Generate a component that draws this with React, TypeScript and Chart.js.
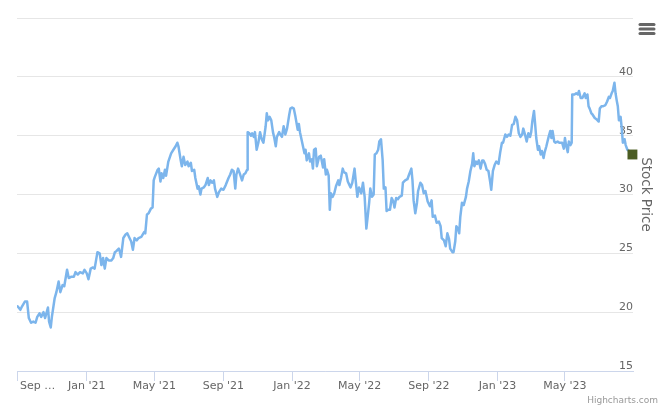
import React, { useEffect, useRef } from "react";
import { Chart, registerables } from "chart.js";

Chart.register(...registerables);

// ---- data ----
const dates2020 = ["08-31","09-05","09-08","09-13","09-17","09-20","09-24","09-28","10-02","10-05","10-09","10-12","10-16","10-19","10-24","10-26","10-29","10-31","11-05","11-08","11-12","11-15","11-19","11-22","11-27","11-30","12-04","12-09","12-12","12-16","12-20","12-25","12-28"];
const prices2020 = [20.5,20.2,20.5,20.9,20.9,19.5,19.1,19.2,19.1,19.6,19.9,19.6,20.0,19.5,20.4,19.2,18.7,19.6,21.2,21.7,22.6,21.7,22.3,22.2,23.6,22.9,23.0,23.0,23.4,23.2,23.4,23.3,23.6];

const dates2021 = [
  "01-01","01-04","01-08","01-12","01-15","01-20","01-24","01-27","01-30",
  "02-02","02-05","02-09","02-14","02-17","02-20","02-23","02-27",
  "03-01","03-03","03-07","03-11","03-14","03-18","03-21","03-24","03-27","03-31",
  "04-03","04-08","04-13","04-15","04-18","04-21","04-25","04-28","04-30",
  "05-02","05-07","05-09","05-12","05-14","05-17","05-20","05-22","05-26","05-31",
  "06-04","06-08","06-11","06-13","06-17","06-19","06-22","06-25","06-29",
  "07-01","07-05","07-07","07-11","07-13","07-17","07-19","07-22","07-24","07-28","07-31",
  "08-04","08-06","08-09","08-12","08-15","08-17","08-21","08-24","08-28",
  "09-01","09-05","09-10","09-13","09-16","09-19","09-22","09-24","09-27","09-30",
  "10-04","10-07","10-10","10-13","10-14","10-17","10-20","10-22","10-25","10-27","10-30",
  "11-02","11-05","11-08","11-11","11-15","11-17","11-19","11-22","11-25","11-28","11-30",
  "12-03","12-05","12-09","12-11","12-14","12-17","12-20","12-23","12-27","12-29"
];
const prices2021 = [
  23.3,22.8,23.7,23.8,23.7,25.1,25.0,24.0,24.6,
  23.7,24.6,24.4,24.4,24.6,25.1,25.2,25.4,
  25.1,24.7,26.3,26.6,26.7,26.3,26.0,25.3,26.3,26.1,
  26.3,26.4,26.8,26.7,28.3,28.4,28.8,28.9,31.2,
  31.5,32.1,32.2,31.1,31.8,31.4,32.1,31.6,32.8,33.5,
  33.8,34.1,34.4,34.1,32.9,32.4,33.2,32.5,32.8,
  32.4,32.7,32.0,32.1,31.4,30.5,30.7,30.0,30.5,30.6,30.8,
  31.4,30.8,31.2,31.0,31.2,30.5,29.8,30.2,30.5,
  30.4,30.8,31.4,31.7,32.1,32.0,30.5,31.7,32.2,31.8,
  31.2,31.7,31.8,32.1,35.3,35.2,35.0,35.2,34.9,35.3,33.8,
  34.4,35.3,34.7,34.4,35.8,36.9,36.3,36.6,36.3,35.3,34.9,
  34.1,34.9,35.3,35.1,34.9,35.8,35.1,35.6,36.8,37.3
];

const dates2022 = [
  "01-01","01-04","01-07","01-11","01-13","01-15","01-19","01-23","01-25","01-27","01-31",
  "02-02","02-05","02-07","02-09","02-12","02-14","02-18","02-21","02-25","02-27",
  "03-02","03-04","03-07","03-09","03-11","03-14","03-17","03-20","03-24","03-26","03-29",
  "04-01","04-03","04-07","04-10","04-13","04-15","04-18","04-22","04-24","04-27","04-30",
  "05-04","05-07","05-10","05-13","05-16","05-18","05-20","05-23","05-26","05-28","05-31",
  "06-03","06-05","06-08","06-11","06-13","06-16","06-18","06-21","06-24","06-27","06-30",
  "07-02","07-05","07-08","07-11","07-15","07-17","07-21","07-25","07-28",
  "08-01","08-03","08-05","08-08","08-11","08-13","08-17","08-20","08-23","08-26","08-30",
  "09-03","09-06","09-08","09-12","09-15","09-19","09-22","09-24","09-28",
  "10-01","10-04","10-07","10-09","10-13","10-15","10-18","10-20","10-23","10-25","10-27","10-30",
  "11-02","11-06","11-08","11-11","11-14","11-17","11-19","11-21","11-24","11-26","11-29",
  "12-02","12-05","12-07","12-10","12-13","12-16","12-19","12-21","12-24","12-27","12-30"
];
const prices2022 = [
  37.4,37.3,36.6,35.5,36.0,35.3,34.4,33.5,33.8,32.9,33.5,
  32.8,33.0,32.2,33.8,33.9,32.4,33.2,33.3,32.3,33.0,
  31.7,32.1,31.6,28.7,30.1,29.8,30.1,30.7,31.2,30.8,31.4,
  32.2,31.9,31.8,31.1,30.8,30.6,31.0,32.2,31.2,29.8,30.6,
  30.1,31.0,29.8,27.1,28.4,29.3,30.5,29.8,30.0,33.4,33.5,
  33.8,34.5,34.7,32.9,30.5,30.6,28.6,28.7,28.7,29.7,29.4,
  28.9,29.7,29.6,29.8,29.9,31.0,31.2,31.3,31.7,
  32.2,31.2,29.5,28.4,29.3,30.3,31.0,30.8,30.1,30.3,29.4,
  29.0,29.5,28.1,28.2,27.6,27.7,27.3,26.3,26.1,
  25.6,26.7,26.2,25.4,25.1,25.1,26.0,27.3,27.1,26.7,28.1,29.3,
  29.1,29.8,30.5,31.1,32.0,32.6,33.5,32.4,32.8,32.6,32.9,
  32.2,32.9,32.9,32.6,32.1,32.0,31.1,30.4,32.0,32.5,32.8
];

const dates2023 = [
  "01-03","01-06","01-09","01-11","01-15","01-18","01-21","01-24","01-27","01-30",
  "02-02","02-05","02-08","02-11","02-14","02-16","02-19","02-22","02-25","02-28",
  "03-02","03-04","03-07","03-09","03-11","03-14","03-16","03-19","03-21","03-24","03-26","03-29","03-31",
  "04-02","04-05","04-07","04-09","04-12","04-14","04-18","04-21","04-26","04-29",
  "05-01","05-03","05-06","05-08","05-11","05-13","05-14","05-18","05-21","05-24","05-26","05-29",
  "06-01","06-05","06-07","06-10","06-12","06-14","06-17","06-19","06-23","06-26","06-30",
  "07-02","07-05","07-08","07-12","07-15","07-18","07-20","07-23","07-25","07-28","07-30",
  "08-01","08-03","08-05","08-08","08-10","08-12","08-15","08-17","08-20","08-23","08-29"
];
const prices2023 = [
  32.6,33.6,34.4,34.4,35.1,34.9,35.1,35.0,35.9,36.0,
  36.6,36.3,35.2,34.9,35.1,35.6,35.1,34.5,35.2,34.9,
  35.3,36.2,37.1,36.0,34.8,33.8,34.1,33.4,33.7,33.1,33.6,34.1,34.5,
  34.9,35.4,34.8,35.4,34.5,34.4,34.5,34.4,34.4,33.9,
  34.8,34.2,33.6,34.5,34.2,34.4,38.5,38.5,38.6,38.5,38.8,38.2,
  38.2,38.6,38.2,38.5,37.5,37.3,36.9,36.8,36.5,36.4,36.2,
  37.3,37.5,37.5,37.6,37.9,38.3,38.2,38.6,38.8,39.5,38.6,
  38.0,37.5,36.3,36.6,35.6,34.4,34.7,34.2,33.8,33.7,33.4
];

const lastPriceDate = "2023-08-29";
const lastPrice = 33.4;

const axisStart = "2020-08-30";
const axisEnd = "2023-08-30";
const tickDates = ["2020-08-30","2021-01-01","2021-05-01","2021-09-01","2022-01-01","2022-05-01","2022-09-01","2023-01-01","2023-05-01"];
const tickLabels = ["Sep …","Jan '21","May '21","Sep '21","Jan '22","May '22","Sep '22","Jan '23","May '23"];

const yMin = 15;
const yMax = 45;
const yStep = 5;
const yTitle = "Stock Price";
const creditText = "Highcharts.com";

// ---- helpers ----
const ms = (d: string) => Date.parse(d + "T00:00:00Z");

function yearPoints(year: number, ds: string[], ps: number[]) {
  return ds.map((d, i) => ({ x: ms(`${year}-${d}`), y: ps[i] }));
}

const FONT = "DejaVu Sans";
const X_TICK_LEN = 10;
const X_PAD = -1;

const extrasPlugin = {
  id: "extras",
  afterDraw(chart: any) {
    const ctx = chart.ctx as CanvasRenderingContext2D;
    const xs = chart.scales.x;
    ctx.save();
    // first (shifted) x label
    ctx.font = `11px "${FONT}"`;
    ctx.fillStyle = "#666666";
    ctx.textAlign = "left";
    ctx.textBaseline = "middle";
    const px = xs.getPixelForValue(ms(tickDates[0]));
    ctx.fillText(tickLabels[0], px + 3, xs.top + X_TICK_LEN + X_PAD + 6.6);
    // context menu icon
    ctx.strokeStyle = "#666666";
    ctx.lineWidth = 3;
    ctx.lineCap = "round";
    for (const y of [24.5, 29, 33.5]) {
      ctx.beginPath();
      ctx.moveTo(640, y);
      ctx.lineTo(654, y);
      ctx.stroke();
    }
    // credits
    ctx.font = `9px "${FONT}"`;
    ctx.fillStyle = "#999999";
    ctx.textAlign = "right";
    ctx.textBaseline = "alphabetic";
    ctx.fillText(creditText, 658, 403);
    ctx.restore();
  },
};

export default function App() {
  const ref = useRef<HTMLCanvasElement | null>(null);

  useEffect(() => {
    if (!ref.current) return;
    const points = [
      ...yearPoints(2020, dates2020, prices2020),
      ...yearPoints(2021, dates2021, prices2021),
      ...yearPoints(2022, dates2022, prices2022),
      ...yearPoints(2023, dates2023, prices2023),
    ];
    const chart = new Chart(ref.current, {
      type: "line",
      data: {
        datasets: [
          {
            data: [{ x: ms(lastPriceDate), y: lastPrice }],
            showLine: false,
            pointStyle: "rect",
            pointRadius: 7,
            backgroundColor: "#4b5d23",
            borderWidth: 0,
            clip: false as any,
            order: 1,
          },
          {
            data: points,
            borderColor: "#7cb5ec",
            borderWidth: 2.5,
            borderJoinStyle: "round",
            borderCapStyle: "round",
            pointRadius: 0,
            tension: 0,
            fill: false,
            order: 2,
          },
        ],
      },
      options: {
        animation: false,
        responsive: false,
        events: [],
        layout: { padding: { left: 17, top: 18, right: 0, bottom: 0 } },
        plugins: { legend: { display: false }, tooltip: { enabled: false } },
        scales: {
          x: {
            type: "linear",
            min: ms(axisStart),
            max: ms(axisEnd),
            afterBuildTicks: (s: any) => {
              s.ticks = tickDates.map((d) => ({ value: ms(d) }));
            },
            afterFit: (s: any) => {
              s.height = 45;
            },
            grid: {
              drawOnChartArea: false,
              drawTicks: true,
              tickLength: X_TICK_LEN,
              color: "#ccd6eb",
            },
            border: { display: true, color: "#ccd6eb", width: 1 },
            ticks: {
              autoSkip: false,
              maxRotation: 0,
              minRotation: 0,
              padding: X_PAD,
              color: "#666666",
              font: { family: FONT, size: 11 },
              callback: (_v: any, i: number) => (i === 0 ? "" : tickLabels[i]),
            },
          },
          y: {
            type: "linear",
            position: "right",
            min: yMin,
            max: yMax,
            afterFit: (s: any) => {
              s.width = 35;
            },
            grid: { color: "#e6e6e6", drawTicks: false },
            border: { display: false },
            ticks: {
              stepSize: yStep,
              mirror: true,
              padding: 0,
              labelOffset: -5,
              color: "#666666",
              font: { family: FONT, size: 11 },
              callback: (v: any) => (v === yMax ? "" : String(v)),
            },
            title: {
              display: true,
              text: yTitle,
              color: "#666666",
              font: { family: FONT, size: 13.5 },
              padding: { top: 14, bottom: 0 },
            },
          },
        },
      },
      plugins: [extrasPlugin],
    } as any);
    return () => chart.destroy();
  }, []);

  return (
    <div style={{ position: "fixed", left: 0, top: 0, width: 668, height: 416, background: "#ffffff" }}>
      <canvas ref={ref} width={668} height={416} style={{ display: "block" }} />
    </div>
  );
}
